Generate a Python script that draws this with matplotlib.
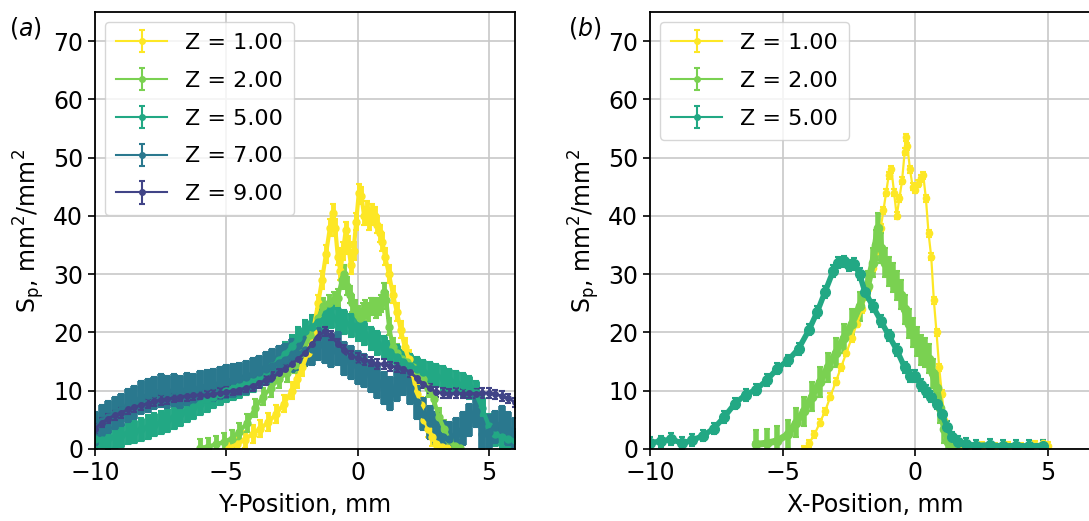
import numpy as np
import matplotlib.pyplot as plt
from matplotlib.container import ErrorbarContainer
from matplotlib.legend_handler import HandlerErrorbar

# S_p profiles, (a) along Y and (b) along X

# common position grid for the wide profiles in (a), mm
y_pos = [-10, -9.75, -9.5, -9.25, -9, -8.75, -8.5, -8.25, -8, -7.75, -7.5, -7.25, -7,
         -6.75, -6.5, -6.25, -6, -5.75, -5.5, -5.25, -5, -4.75, -4.5, -4.25, -4,
         -3.75, -3.5, -3.25, -3, -2.75, -2.5, -2.25, -2, -1.75, -1.5, -1.25, -1,
         -0.75, -0.5, -0.25, 0, 0.25, 0.5, 0.75, 1, 1.25, 1.5, 1.75, 2, 2.25, 2.5,
         2.75, 3, 3.25, 3.5, 3.75, 4, 4.25, 4.5, 4.75, 5, 5.25, 5.5, 5.75, 6]

a_z1_x = [-4.9, -4.6, -4.3, -4.0, -3.7, -3.4, -3.1, -2.8, -2.5, -2.3, -2.1, -1.9, -1.7, -1.5,
          -1.35, -1.2, -1.05, -0.95, -0.85, -0.75, -0.65, -0.55, -0.45, -0.35, -0.25, -0.15, -0.05,
          0.05, 0.15, 0.25, 0.35, 0.45, 0.55, 0.65, 0.75, 0.85, 0.95, 1.05,
          1.2, 1.35, 1.5, 1.65, 1.8, 1.95, 2.1, 2.25, 2.4, 2.55, 2.7, 2.85, 3.0, 3.2, 3.4]
a_z1_y = [0.2, 0.8, 1.6, 2.6, 3.5, 4.6, 6.0, 7.8, 10.0, 12.0, 14.0, 16.5, 20.0, 25.0,
          29.0, 33.5, 38.0, 40.5, 38.0, 33.0, 30.5, 34.0, 37.5, 35.0, 31.5, 34.0, 39.0,
          44.0, 43.5, 40.0, 41.0, 39.0, 40.5, 40.0, 38.5, 37.0, 35.5, 33.0,
          30.0, 26.5, 23.5, 20.5, 17.5, 15.5, 13.0, 9.5, 7.5, 5.0, 3.5, 2.0, 0.9, 0.4, 0.1]

a_z2_x = [-6.0, -5.7, -5.4, -5.1, -4.8, -4.5, -4.2, -3.9, -3.6, -3.3, -3.0, -2.7, -2.4, -2.1, -1.8, -1.5,
          -1.3, -1.1, -0.9, -0.75, -0.6,
          -0.5, -0.4, -0.3, -0.2, -0.1, 0.0, 0.1, 0.2, 0.3, 0.4, 0.5, 0.6, 0.7, 0.8, 0.9, 1.0, 1.1, 1.2,
          1.35, 1.5, 1.7, 1.9, 2.1, 2.3, 2.5, 2.7, 2.9, 3.1, 3.3, 3.5, 3.7, 3.9]
a_z2_y = [0.2, 0.4, 0.8, 1.2, 1.8, 3.0, 4.5, 7.0, 9.0, 10.5, 12.0, 13.0, 14.5, 16.5, 19.5, 22.5,
          24.5, 25.0, 25.5, 26.0, 29.0,
          30.0, 28.0, 26.5, 25.0, 24.0, 23.0, 22.5, 23.5, 24.0, 23.5, 24.5, 24.5, 24.0, 24.5, 25.0, 27.0, 25.5, 21.0,
          17.5, 16.5, 15.5, 15.0, 14.0, 13.0, 12.0, 10.5, 8.5, 5.5, 3.5, 1.5, 0.5, 0.1]

a_z5_y = [1.8, 1.6, 1.9, 2.1, 2.4, 2.8, 3.0, 3.4, 3.8, 4.2, 4.6, 5.0, 5.5,
          6.0, 6.6, 7.2, 7.8, 8.4, 9.0, 9.5, 10.0, 10.4, 10.8, 11.3, 11.8,
          12.5, 13.4, 14.2, 15.2, 16.3, 17.6, 19.0, 20.2, 21.0, 21.8, 22.5, 22.8,
          22.2, 21.8, 21.2, 20.6, 19.8, 19.0, 18.2, 17.4, 16.6, 15.8, 15.0, 14.3, 13.8, 13.3,
          12.9, 12.6, 12.2, 11.8, 11.4, 11.0, 10.6, 9.6, 7.0, 4.0, 2.6, 2.0, 1.8, 1.5]

a_z7_y = [3.5, 4.8, 5.5, 6.2, 6.7, 7.5, 8.0, 8.8, 9.2, 9.6, 10.0, 9.8, 10.1,
          9.8, 10.3, 10.0, 10.6, 10.8, 11.0, 11.3, 11.6, 11.8, 12.0, 12.3, 12.8,
          13.2, 13.8, 14.3, 14.8, 15.3, 16.0, 16.3, 17.0, 17.2, 18.0, 17.5, 16.8,
          17.2, 15.5, 14.8, 14.0, 13.5, 12.5, 11.5, 10.5, 9.5, 11.0, 12.0, 10.5, 8.0, 6.0,
          4.5, 3.5, 2.0, 1.8, 2.6, 3.5, 5.0, 6.6, 2.6, 3.0, 3.8, 4.5, 3.5, 2.5]

a_z9_y = [3.5, 4.5, 5.2, 5.8, 6.2, 6.8, 7.2, 7.5, 7.8, 8.2, 8.4, 8.6, 8.8,
          9.0, 9.1, 9.2, 9.3, 9.2, 9.4, 9.6, 9.8, 10.0, 10.2, 10.5, 10.8,
          11.3, 11.8, 12.4, 13.0, 13.8, 14.6, 15.5, 16.5, 18.0, 19.3, 20.2, 19.5,
          18.0, 17.0, 16.0, 15.6, 15.3, 15.0, 14.6, 14.6, 14.2, 14.0, 13.8, 13.2, 12.2, 11.2,
          10.4, 9.8, 9.6, 9.5, 9.6, 9.5, 9.6, 9.5, 9.6, 9.6, 9.4, 9.1, 8.7, 8.0]

b_z1_x = [-4.2, -4.0, -3.8, -3.6, -3.4, -3.2, -3.0, -2.8, -2.6, -2.4, -2.2, -2.0, -1.8, -1.6,
          -1.45, -1.3, -1.2, -1.1, -1.0, -0.9, -0.8, -0.7, -0.6, -0.5, -0.4, -0.35,
          -0.3, -0.2, -0.1, 0.0, 0.1, 0.2, 0.3, 0.4, 0.5, 0.6, 0.7, 0.8, 0.9, 1.0, 1.1, 1.2,
          1.4, 1.7, 2.0, 2.5, 3.0, 3.5, 4.0, 4.5, 4.8, 5.0]
b_z1_y = [0.0, 1.0, 2.5, 4.5, 6.5, 9.0, 11.5, 14.0, 16.5, 19.0, 21.5, 24.0, 27.5, 31.0,
          34.0, 38.0, 41.0, 44.0, 47.0, 48.0, 44.0, 40.0, 43.0, 46.0, 51.0, 53.5,
          52.0, 48.0, 45.0, 44.5, 45.5, 46.5, 47.0, 43.0, 37.0, 33.0, 25.5, 20.0, 14.0, 9.5, 5.0, 2.0,
          0.8, 0.6, 0.5, 0.6, 0.5, 0.6, 0.4, 0.7, 1.0, 0.6]

b_z2_x = [-6.0, -5.6, -5.2, -4.8, -4.5, -4.2, -3.9, -3.6, -3.3, -3.0, -2.7, -2.4, -2.1, -1.8,
          -1.6, -1.5, -1.4, -1.3, -1.15, -1.0, -0.85, -0.7, -0.55, -0.4, -0.25, -0.1,
          0.05, 0.2, 0.35, 0.5, 0.65, 0.8, 0.95, 1.1, 1.25, 1.4]
b_z2_y = [0.8, 1.0, 1.4, 2.5, 4.5, 6.5, 9.0, 11.5, 14.0, 16.5, 19.0, 21.5, 24.5, 28.0,
          32.0, 35.0, 38.0, 34.5, 32.0, 30.5, 29.5, 28.0, 26.5, 24.0, 21.5, 20.0,
          18.5, 17.0, 16.5, 15.5, 13.0, 10.5, 7.0, 3.5, 1.2, 0.3]

b_z5_x = [-10.0, -9.6, -9.2, -8.8, -8.4, -8.0, -7.6, -7.2, -6.8, -6.4, -6.0, -5.6, -5.2, -4.8, -4.4, -4.0,
          -3.7, -3.4, -3.1, -2.9, -2.7, -2.5, -2.3, -2.1, -1.9, -1.6, -1.3, -1.0, -0.7, -0.4,
          -0.2, 0.0, 0.2, 0.4, 0.6, 0.8, 1.0, 1.2, 1.4, 1.6, 1.9, 2.3, 2.8, 3.3, 3.8, 4.3, 4.8]
b_z5_y = [1.1, 1.3, 1.7, 1.0, 1.5, 2.3, 3.5, 5.5, 7.8, 9.3, 10.2, 11.8, 13.8, 15.2, 17.2, 20.5,
          23.5, 27.0, 30.5, 32.0, 32.2, 31.5, 31.8, 30.0, 27.0, 24.5, 22.0, 19.5, 17.0, 14.0,
          12.5, 12.5, 11.0, 10.0, 9.0, 7.8, 6.0, 3.8, 2.0, 1.2, 0.9, 0.6, 0.7, 0.5, 0.6, 0.5, 0.6]

# rough size of the error bars for each profile
a_err = {1: 1.5, 2: 1.5, 5: 2.0, 7: 2.8, 9: 0.8}
b_err = {1: 0.6, 2: 2.5, 5: 1.0}

cols = {1: plt.cm.viridis(1.0), 2: plt.cm.viridis(0.8), 5: plt.cm.viridis(0.6),
        7: plt.cm.viridis(0.4), 9: plt.cm.viridis(0.2)}

fs = 17
plt.rcParams['font.size'] = fs

fig = plt.figure(figsize=(10.89, 5.21), dpi=100)
ax1 = fig.add_axes([95/1089, 72/521, 420/1089, 437/521])
ax2 = fig.add_axes([650/1089, 72/521, 451/1089, 437/521])

def draw(ax, x, y, z, err, ms=5, lw=3, ew=3.5):
    # thick error bars so that the dense points merge into a band
    ax.errorbar(x, y, yerr=err, fmt='-o', color=cols[z], ms=ms, lw=lw,
                elinewidth=ew, capsize=2, capthick=1.5, label='Z = %.2f' % z)

def thin(h, orig):
    # legend entries drawn thin, like the original
    h.update_from(orig)
    h.set_linewidth(1.5)
    if hasattr(h, 'set_markersize') and h.get_marker() == 'o':
        h.set_markersize(4)

draw(ax1, a_z1_x, a_z1_y, 1, a_err[1])
draw(ax1, a_z2_x, a_z2_y, 2, a_err[2])
draw(ax1, y_pos, a_z5_y, 5, a_err[5], ew=5)
draw(ax1, y_pos, a_z7_y, 7, a_err[7], ew=5.5)
draw(ax1, y_pos, a_z9_y, 9, a_err[9], ms=4, lw=2, ew=2)

draw(ax2, b_z1_x, b_z1_y, 1, b_err[1], ms=4.5, lw=1.6, ew=1.5)
draw(ax2, b_z2_x, b_z2_y, 2, b_err[2], ms=6, lw=5, ew=4)
draw(ax2, b_z5_x, b_z5_y, 5, b_err[5], ms=7, lw=4, ew=3)

for ax, xl in [(ax1, 'Y-Position, mm'), (ax2, 'X-Position, mm')]:
    ax.set_ylim(0, 75)
    ax.set_yticks(np.arange(0, 71, 10))
    ax.set_xticks([-10, -5, 0, 5])
    ax.grid(True, color='#c8c8c8', lw=1.2)
    ax.set_axisbelow(True)
    ax.set_xlabel(xl, fontsize=fs, labelpad=6)
    ax.set_ylabel('S$_\\mathrm{p}$, mm$^2$/mm$^2$', fontsize=fs)
    ax.tick_params(labelsize=fs, width=1.2, length=5)
    for s in ax.spines.values():
        s.set_linewidth(1.3)
    ax.legend(loc='upper left', fontsize=16, handlelength=2.3, labelspacing=0.8,
              borderpad=0.5, borderaxespad=0.45,
              handler_map={ErrorbarContainer: HandlerErrorbar(update_func=thin)})

ax1.set_xlim(-10, 6)
ax2.set_xlim(-10, 7)

fig.text(25/1089, 1 - 28/521, '($a$)', fontsize=fs, ha='center', va='center')
fig.text(585/1089, 1 - 28/521, '($b$)', fontsize=fs, ha='center', va='center')

plt.savefig('out.png', dpi=100)
